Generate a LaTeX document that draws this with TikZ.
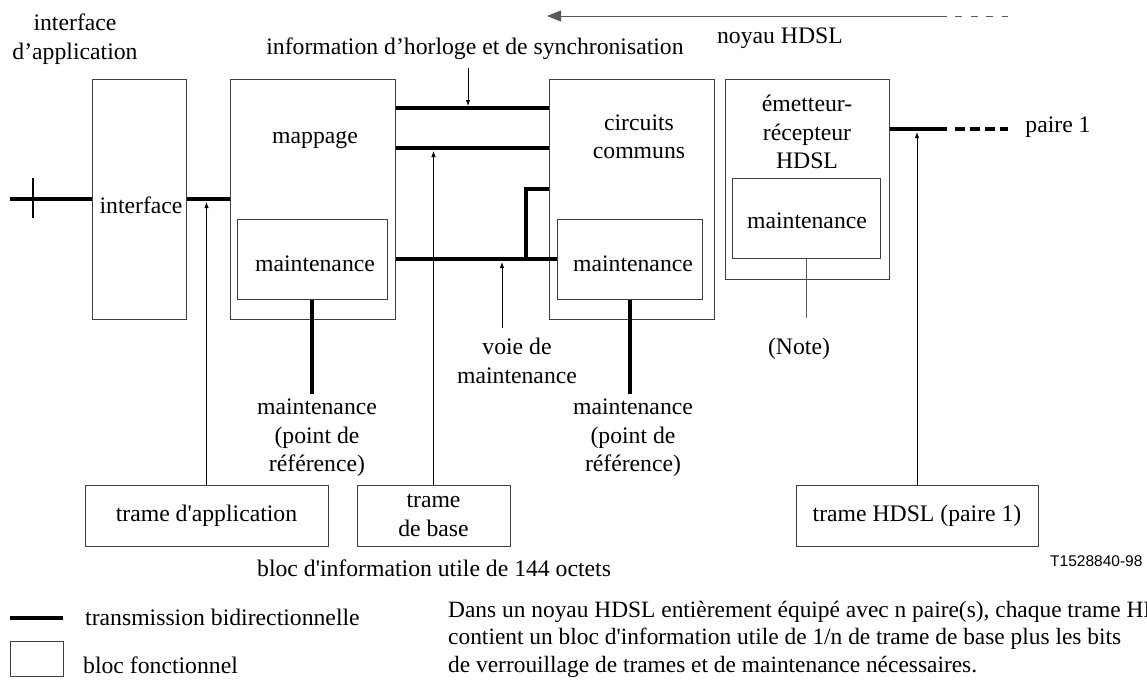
\documentclass[tikz,border=0pt]{standalone}
\usepackage{fontspec}
\newfontfamily\serifface{Liberation Serif}
\newfontfamily\sansface{Liberation Sans}
\usetikzlibrary{arrows.meta,calc}

\begin{document}
\begin{tikzpicture}[x=1pt,y=-1pt,
  font=\serifface\fontsize{23.7}{28.5}\selectfont,
  box/.style={draw=black!75, line width=1pt, inner sep=0pt},
  txt/.style={inner sep=0pt, align=center},
  bus/.style={line width=4pt, line join=miter},
  thinline/.style={draw=black!65, line width=1pt},
  pointer/.style={line width=0.8pt, -{Latex[length=6pt,width=4.5pt]}},
]
\useasboundingbox (0,0) rectangle (1147,680);

% functional blocks
\node[box, minimum width=94pt,  minimum height=240pt] (ifbox)     at (139,199)   {};
\node[box, minimum width=165pt, minimum height=240pt] (mapbox)    at (312.5,199) {};
\node[box, minimum width=150pt, minimum height=80pt]  (mapmaint)  at (312,259)   {};
\node[box, minimum width=165pt, minimum height=240pt] (circbox)   at (631.5,199) {};
\node[box, minimum width=145pt, minimum height=80pt]  (circmaint) at (629.5,259) {};
\node[box, minimum width=164pt, minimum height=200pt] (hdslbox)   at (807,179)   {};
\node[box, minimum width=148pt, minimum height=80pt]  (hdslmaint) at (806,218)   {};
\node[box, minimum width=243pt, minimum height=61pt, align=center] (trapp)  at (206.5,515.5) {trame d'application};
\node[box, minimum width=153pt, minimum height=61pt, align=center] (trbase) at (433.5,515.5) {trame\\de base};
\node[box, minimum width=242pt, minimum height=61pt, align=center] (trhdsl) at (917,515.5)   {trame HDSL (paire 1)};

% texts inside the blocks
\node[txt] (tif)    at (141,205) {interface};
\node[txt] (tmap)   at (315,140) {mappage};
\node[txt] (tcirc)  at (639,137) {circuits\\communs};
\node[txt] (thdsl)  at (807,132) {émetteur-\\récepteur\\HDSL};
\node[txt] (tmm1)   at (315,264) {maintenance};
\node[txt] (tmm2)   at (633,264) {maintenance};
\node[txt] (tmm3)   at (807,221) {maintenance};

% free labels
\node[txt] (lapp)   at (75,39)   {interface\\d’application};
\node[txt] (lclk)   at (475,49)  {information d’horloge et de synchronisation};
\node[txt] (lcore)  at (780,38)  {noyau HDSL};
\node[txt] (lpair)  at (1058,127){paire 1};
\node[txt] (lref1)  at (317,438) {maintenance\\(point de\\référence)};
\node[txt] (lref2)  at (633,438) {maintenance\\(point de\\référence)};
\node[txt] (lvoie)  at (517,361) {voie de\\maintenance};
\node[txt] (lnote)  at (799,349) {(Note)};
\node[txt, anchor=west] (lbloc) at (257,568) {bloc d'information utile de 144 octets};
\node[txt, anchor=west, font=\sansface\fontsize{15.5}{18}\selectfont] (lid) at (1050,561) {T1528840-98};

% connection points
\coordinate (inL)     at (10,199);
\coordinate (tickT)   at (33,178);
\coordinate (tickB)   at (33,218);
\coordinate (appTip)  at (206.5,202);
\coordinate (clkY)    at (0,108);
\coordinate (baseY)   at (0,148);
\coordinate (clkTail) at (468,68);
\coordinate (clkTip)  at (468,106);
\coordinate (baseTip) at (433.5,151);
\coordinate (brk)     at (526,189);
\coordinate (voieTail) at (502,328);
\coordinate (voieTip) at (502,262);
\coordinate (mapRef)  at (312,394);
\coordinate (circRef) at (629.5,394);
\coordinate (noteEnd) at (806,318);
\coordinate (p1)      at (947,129);
\coordinate (p1dash)  at (955,129);
\coordinate (p1end)   at (1008,129);
\coordinate (hdslTip) at (917,132);
\coordinate (coreR)   at (947,16);
\coordinate (coreTip) at (547,16);
\coordinate (coreDash) at (955,16);
\coordinate (coreEnd) at (1008,16);

% application side
\draw[bus] (inL) -- (ifbox.west);
\draw[line width=2pt] (tickT) -- (tickB);
\draw[bus] (ifbox.east) -- (mapbox.west);
\draw[pointer] (trapp.north) -- (appTip);

% mapping <-> common circuits
\draw[bus] (mapbox.east |- clkY) -- (circbox.west |- clkY);
\draw[bus] (mapbox.east |- baseY) -- (circbox.west |- baseY);
\draw[pointer] (clkTail) -- (clkTip);
\draw[pointer] (trbase.north) -- (baseTip);

% maintenance channel
\draw[bus] (mapbox.east |- circmaint.west) -- (circmaint.west);
\draw[bus] (brk |- circmaint.west) -- (brk) -- (circbox.west |- brk);
\draw[pointer] (voieTail) -- (voieTip);
\draw[bus] (mapmaint.south) -- (mapRef);
\draw[bus] (circmaint.south) -- (circRef);
\draw[thinline] (hdslmaint.south) -- (noteEnd);

% pair 1
\draw[bus] (hdslbox.east |- p1) -- (p1);
\draw[bus, dash pattern=on 10pt off 5pt] (p1dash) -- (p1end);
\draw[pointer] (trhdsl.north) -- (hdslTip);

% HDSL core extent
\draw[thinline, -{Triangle[length=14pt,width=11pt]}] (coreR) -- (coreTip);
\draw[thinline, dash pattern=on 7pt off 8.5pt] (coreDash) -- (coreEnd);

% legend
\coordinate (legL) at (10,618);
\coordinate (legR) at (63,618);
\draw[bus] (legL) -- (legR);
\node[box, minimum width=53pt, minimum height=35pt] (legbox) at (36.5,658.5) {};
\node[txt, anchor=west] (ltrans) at (85,617) {transmission bidirectionnelle};
\node[txt, anchor=west] (lfunc)  at (83,665) {bloc fonctionnel};

% note text
\node[txt, anchor=west, align=left, font=\serifface\fontsize{23.4}{27.5}\selectfont] (lpara) at (448,639)
  {Dans un noyau HDSL entièrement équipé avec n paire(s), chaque trame HDSL\\
   contient un bloc d'information utile de 1/n de trame de base plus les bits\\
   de verrouillage de trames et de maintenance nécessaires.};
\end{tikzpicture}
\end{document}
